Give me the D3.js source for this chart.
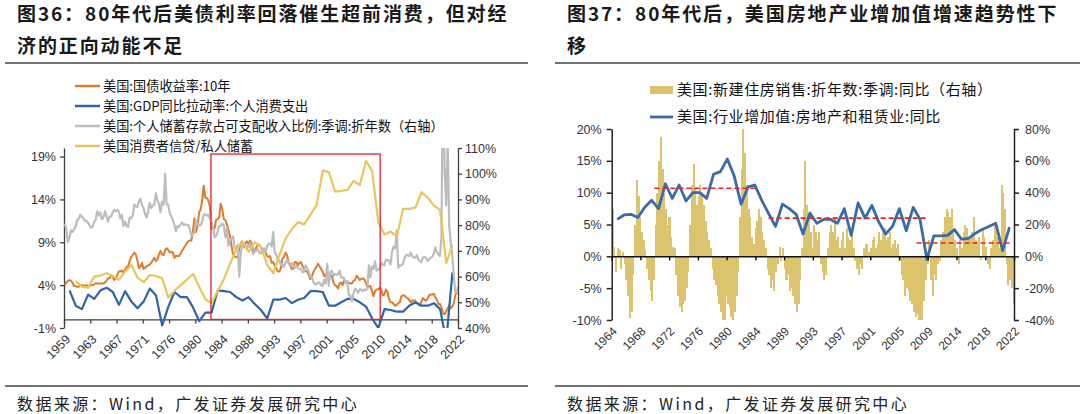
<!DOCTYPE html>
<html><head><meta charset="utf-8">
<script src="https://cdn.jsdelivr.net/npm/d3@7/dist/d3.min.js"></script>
<style>
body{margin:0;background:#fff;}
svg{display:block;}
</style></head>
<body><svg id="c" width="1080" height="414"></svg>
<script>
// ---------------- DATA ----------------
// Figure 36 (left)
const leftXLabels = ["1959","1963","1967","1971","1976","1980","1984","1988","1993","1997","2001","2005","2010","2014","2018","2022"];
const leftYTicks = [-1, 4, 9, 14, 19];
const leftY2Ticks = [40, 50, 60, 70, 80, 90, 100, 110];
// US 10Y Treasury yield, quarterly from 1959Q1 (%)
const tsy10Q = [
4.0,4.3,4.5,4.6, 4.5,4.3,3.9,3.9, 3.8,3.8,4.0,4.0, 4.0,3.9,4.0,3.9, 3.9,4.0,4.0,4.1,
4.2,4.2,4.2,4.2, 4.2,4.2,4.3,4.5, 4.8,4.8,5.1,5.0, 4.6,4.8,5.2,5.6, 5.6,5.7,5.4,5.8,
6.1,6.2,6.8,7.3, 7.5,7.8,7.6,6.9, 6.0,6.2,6.6,5.9, 6.0,6.2,6.3,6.4, 6.6,6.9,7.2,6.8,
7.0,7.6,8.0,7.6, 7.5,8.1,8.3,8.1, 7.8,7.9,7.8,7.2, 7.4,7.4,7.4,7.7, 8.0,8.3,8.6,8.9,
9.1,9.2,9.2,10.4, 11.8,10.2,10.9,12.5, 12.8,13.9,15.6,14.2, 14.2,13.9,13.1,10.6, 10.6,10.6,11.6,11.7,
11.9,13.5,12.9,11.7, 11.6,11.1,10.4,9.8, 8.6,7.6,7.3,7.3, 7.2,8.3,8.9,9.1, 8.4,8.9,9.1,8.8,
9.2,8.9,8.1,7.9, 8.4,8.7,8.7,8.4, 8.0,8.1,7.9,7.4, 7.3,7.4,6.6,6.7, 6.3,5.9,5.6,5.6,
6.0,7.1,7.3,7.8, 7.5,6.6,6.3,5.9, 5.9,6.7,6.7,6.3, 6.6,6.7,6.2,5.9, 5.6,5.6,5.2,4.7,
5.0,5.5,5.9,6.1, 6.5,6.2,5.9,5.6, 5.0,5.3,4.9,4.8, 5.1,5.1,4.3,4.0, 3.9,3.6,4.2,4.3,
4.0,4.6,4.3,4.2, 4.3,4.2,4.2,4.5, 4.6,5.1,4.9,4.6, 4.7,4.8,4.7,4.3, 3.7,3.9,3.9,3.3,
2.7,3.3,3.5,3.5, 3.7,3.5,2.8,2.9, 3.5,3.2,2.4,2.0, 2.0,1.8,1.6,1.7, 1.9,2.0,2.7,2.8,
2.8,2.6,2.5,2.3, 2.0,2.2,2.2,2.2, 1.9,1.8,1.6,2.1, 2.5,2.3,2.2,2.4, 2.8,2.9,2.9,3.0,
2.6,2.3,1.8,1.8, 1.4,0.7,0.6,0.9, 1.3,1.6,1.3,1.5, 1.9,2.9,3.1,3.9
];
// Personal saving rate, quarterly from 1959Q1 (%)
const savingQ = [
11.2,10.5,9.0,9.5, 10.4,10.2,10.5,10.8, 11.6,11.7,12.2,12.0, 11.8,11.5,11.5,11.3, 11.0,10.7,10.8,11.4,
11.6,12.6,12.1,12.5, 11.7,11.9,12.6,12.1, 11.4,12.0,12.0,12.5, 12.8,12.6,12.8,12.6, 11.8,12.2,10.9,11.4,
10.9,10.8,11.9,11.8, 12.1,13.4,13.2,13.1, 13.8,14.1,13.3,13.0, 12.3,11.9,12.6,13.6, 13.0,13.3,13.4,14.7,
13.9,13.5,12.5,13.7, 13.4,17.0,13.4,13.4, 12.4,12.0,11.6,11.0, 10.3,10.9,10.8,11.1, 11.3,11.0,11.1,11.0,
11.0,10.5,9.8,10.0, 10.2,11.5,11.2,11.0, 11.0,11.4,12.2,12.3, 12.1,12.2,11.7,11.4, 10.6,9.6,9.7,10.2,
10.9,10.9,11.2,11.0, 9.6,10.6,8.6,9.2, 9.4,9.7,8.3,8.3, 8.7,5.0,7.8,8.7, 8.5,8.5,8.6,8.4,
8.9,8.2,7.6,8.0, 8.0,8.2,7.8,7.7, 8.1,8.3,7.9,8.5, 8.8,8.9,8.5,10.2, 7.8,7.6,6.9,6.9,
6.4,6.4,6.1,6.7, 6.9,6.5,6.3,6.6, 6.3,6.0,6.2,6.0, 5.9,5.9,5.5,5.6, 6.3,6.0,5.6,5.0,
5.0,4.4,4.1,4.1, 4.3,4.3,4.0,3.9, 4.6,4.2,6.5,3.9, 5.5,5.7,5.1,5.3, 5.2,5.3,5.7,4.9,
4.9,4.8,4.2,4.5, 2.8,2.8,2.1,3.0, 3.6,3.4,3.1,3.5, 3.5,3.3,3.5,3.4, 3.6,6.3,4.9,6.2,
5.9,6.8,5.7,5.8, 6.0,6.6,6.4,6.3, 7.0,6.9,6.9,6.4, 7.9,8.5,8.3,10.4, 6.0,6.3,6.3,6.5,
7.1,7.5,7.5,7.4, 7.8,7.4,7.2,7.2, 7.5,7.0,6.8,6.7, 7.2,7.3,7.2,6.8, 7.0,7.2,7.3,7.7,
8.4,7.9,7.6,7.4, 9.6,33.0,17.5,13.3, 21.0,10.9,9.0,7.5, 5.0,3.2,3.3,3.0
];
// PCE contribution to GDP growth, annual 1959-2021 (%)
const pceYears0 = 1959;
const pceContrib = [3.4,1.6,1.2,2.9,2.4,3.4,3.7,3.2,1.7,3.3,2.1,1.3,2.1,3.6,2.8,-0.7,1.5,3.2,2.6,2.6,
1.4,-0.2,0.8,0.8,3.4,3.3,3.2,2.6,2.2,2.6,1.8,1.1,0.1,2.3,2.3,2.5,1.9,2.3,2.5,3.3,
3.3,3.2,1.6,1.6,2.0,2.4,2.4,2.0,1.5,0.1,-1.0,1.2,1.1,0.9,0.9,1.6,2.0,1.6,1.6,1.9,1.2,-2.5,5.5];
// Consumer credit / personal saving, annual 1960-2021 (%)
const creditYears0 = 1960;
const creditSaving = [58.3,56.1,55.7,60.0,60.4,61.3,60.2,58.7,61.9,64.5,59.6,57.8,60.6,60.2,59.3,51.8,54.5,56.7,58.8,61.0,
56.0,51.2,49.6,54.5,59,65,70.5,73.3,69.7,73.3,71.6,64.5,61.3,68.4,74.9,78.5,81.1,80.3,84,87.8,
101.2,100.6,93,93.3,93.7,97.2,95.6,105,101,81.1,76.4,77.5,75.5,86.3,86.3,86.8,92.8,90.7,87.6,85.9,65.2,72.3];
const highlightYears = [1982.8, 2010.2];
const highlightTop = 19.3;

// Figure 37 (right)
const rightXLabels = ["1964","1968","1972","1976","1980","1984","1989","1993","1997","2001","2005","2009","2014","2018","2022"];
const rightYTicks = [-10,-5,0,5,10,15,20];
const rightY2Ticks = [-40,-20,0,20,40,60,80];
// New home sales YoY, quarterly from 1964Q1 (%)
const homeSalesQ = [
30,6,-10,5, 4,-8,3,-5, -15,-25,-39,-35, -12,20,48,38, 25,15,10,4,
-8,-15,-22,-28, -15,20,40,60, 75,55,40,30, 20,25,12,6, 5,-12,-25,-32,
-35,-30,-28,-20, -10,20,45,58, 42,32,38,45, 40,32,22,15, 10,5,-8,-15,
-18,-25,-30,-35, -40,-40,-25,-30, -32,-38,-40,-35, -25,-10,25,55, 80,65,45,30,
25,12,8,18, 22,30,25,15, 10,5,-8,-12, -20,-15,-22,-10, -5,6,-3,5,
-8,-15,-12,-22, -20,-25,-30,-35, -30,-15,5,30, 60,32,25,15, 5,20,15,10,
15,-5,-10,-15, -12,5,15,20, 15,25,10,12, 5,10,15,5, 18,12,10,15,
5,-3,-8,-12, -5,-8,5,8, 8,3,5,10, 12,5,8,15, 10,15,18,10,
12,15,5,8, 10,5,8,-3, -12,-15,-25,-20, -22,-28,-30,-35, -38,-36,-40,-40,
-40,-28,-15,-5, 10,-15,-25,-12, -15,-5,-3,10, 15,25,30,28, 25,30,15,10,
5,-5,10,5, 15,20,18,10, 12,15,25,10, 8,12,-2,18, 12,6,-5,-8,
5,10,20,18, 12,5,45,40, 30,-5,-18,-15, -20,-30
];
// Real estate & rental value added YoY, annual 1964-2021 (%)
const reYears0 = 1964;
const reGrowth = [5.8,6.5,6.6,6.1,7.7,8.8,7.5,11.4,9.1,11.2,8.7,10.0,10.0,9.1,12.9,13.3,15.3,12.6,8.2,10.9,
11.2,8.8,6.7,4.7,8.2,7.5,6.6,3.5,6.8,5.2,5.8,5.8,5.2,7.5,3.3,8.4,6.0,8.0,5.4,3.5,
4.7,7.5,4.0,7.7,5.8,-0.5,3.2,3.2,3.3,4.2,2.7,2.8,3.6,4.2,4.7,5.2,0.9,4.6];
// Trend lines
const trendStart = [1970.2, 1986.8, 2008.3];
const trendEnd   = [1985.3, 2009.6, 2022.2];
const trendLevel = [10.7, 6.0, 2.1];

// ---------------- DRAW ----------------
const svg = d3.select("#c");
const CJK = "'Noto Sans CJK SC','Noto Sans',sans-serif";
const NUM = "'Liberation Sans',Arial,sans-serif";
const TXT = "#333";

function titleBlock(x, x0, x1, lines){
  lines.forEach((t,i)=>{
    svg.append("text").attr("x",x).attr("y",21+i*32).text(t)
      .attr("font-family",CJK).attr("font-weight","bold").attr("font-size",19)
      .attr("letter-spacing",1.9).attr("fill","#1a1a1a");
  });
  svg.append("line").attr("x1",x0).attr("x2",x1).attr("y1",63).attr("y2",63)
    .attr("stroke","#444").attr("stroke-width",1.5);
  svg.append("line").attr("x1",x0).attr("x2",x1).attr("y1",386).attr("y2",386)
    .attr("stroke","#444").attr("stroke-width",1.5);
  svg.append("text").attr("x",x).attr("y",410).text("数据来源：Wind，广发证券发展研究中心")
    .attr("font-family",CJK).attr("font-size",16).attr("letter-spacing",2.4).attr("fill","#222");
}
titleBlock(17, 5, 528, ["图36：80年代后美债利率回落催生超前消费，但对经","济的正向动能不足"]);
titleBlock(567, 555, 1080, ["图37：80年代后，美国房地产业增加值增速趋势性下","移"]);

const defs = svg.append("defs");

// ===== LEFT CHART =====
const xL = d3.scaleLinear([1959, 2022.8], [64, 458]);
const yL = d3.scaleLinear([-1, 20], [328, 148]);
const yL2 = d3.scaleLinear([40, 110], [328, 148]);
const xLab = d3.scalePoint(leftXLabels, [64, 458]);

defs.append("clipPath").attr("id","clipL").append("rect")
  .attr("x",64).attr("y",148).attr("width",394).attr("height",180);

const gL = svg.append("g");
const axL = gL.append("g").attr("transform","translate(64,0)")
  .call(d3.axisLeft(yL).tickValues(leftYTicks).tickFormat(d=>d+"%").tickSize(4).tickSizeOuter(0));
const axL2 = gL.append("g").attr("transform","translate(458,0)")
  .call(d3.axisRight(yL2).tickValues(leftY2Ticks).tickFormat(d=>d+"%").tickSize(4).tickSizeOuter(0));
[axL,axL2].forEach(a=>{
  a.select(".domain").attr("stroke","#404040").attr("stroke-width",1.3);
  a.selectAll(".tick line").attr("stroke","#404040").attr("stroke-width",1.3);
  a.selectAll(".tick text").attr("font-family",NUM).attr("font-size",12.5).attr("fill",TXT);
});
axL.selectAll(".tick text").attr("x",-8);
axL2.selectAll(".tick text").attr("x",7);
const axLx = gL.append("g").attr("transform",`translate(0,${yL(0)})`)
  .call(d3.axisBottom(xLab).tickSize(4).tickSizeOuter(0).tickFormat(""));
axLx.select(".domain").attr("stroke","#404040").attr("stroke-width",1.3);
axLx.selectAll(".tick line").attr("stroke","#404040").attr("stroke-width",1.3);
gL.selectAll(".xlabL").data(leftXLabels).join("text")
  .attr("transform",d=>`translate(${xLab(d)+4},${337}) rotate(-45)`)
  .attr("text-anchor","end").attr("dy","0.35em")
  .attr("font-family",NUM).attr("font-size",12.5).attr("fill",TXT).text(d=>d);

const lineL = d3.line().x(d=>xL(d.t)).y(d=>yL(d.v));
const lineL2 = d3.line().x(d=>xL(d.t)).y(d=>yL2(d.v));
const plotL = gL.append("g").attr("clip-path","url(#clipL)");
const q = arr => arr.map((v,i)=>({t:1959+i/4+0.125, v}));
plotL.append("path").datum(q(tsy10Q)).attr("d",lineL)
  .attr("fill","none").attr("stroke","#E07B2E").attr("stroke-width",2).attr("stroke-linejoin","round");
plotL.append("path").datum(pceContrib.map((v,i)=>({t:pceYears0+i+0.9, v}))).attr("d",lineL)
  .attr("fill","none").attr("stroke","#2F64AA").attr("stroke-width",2.2).attr("stroke-linejoin","round");
plotL.append("path").datum(q(savingQ)).attr("d",lineL)
  .attr("fill","none").attr("stroke","#BDBDBD").attr("stroke-width",2.2).attr("stroke-linejoin","round");
plotL.append("path").datum(creditSaving.map((v,i)=>({t:creditYears0+i+0.9, v}))).attr("d",lineL2)
  .attr("fill","none").attr("stroke","#E8C65E").attr("stroke-width",2.2).attr("stroke-linejoin","round");
gL.append("rect").attr("x",xL(highlightYears[0])).attr("y",yL(highlightTop))
  .attr("width",xL(highlightYears[1])-xL(highlightYears[0])).attr("height",yL(0)-yL(highlightTop))
  .attr("fill","none").attr("stroke","#E3242B").attr("stroke-width",1.3);

const legL = [
  {t:"美国:国债收益率:10年", c:"#E07B2E"},
  {t:"美国:GDP同比拉动率:个人消费支出", c:"#2F64AA"},
  {t:"美国:个人储蓄存款占可支配收入比例:季调:折年数（右轴）", c:"#BDBDBD"},
  {t:"美国消费者信贷/私人储蓄", c:"#E8C65E"}
];
legL.forEach((d,i)=>{
  const y = 86 + i*20;
  svg.append("line").attr("x1",75).attr("x2",100).attr("y1",y).attr("y2",y)
    .attr("stroke",d.c).attr("stroke-width",2.5);
  svg.append("text").attr("x",103).attr("y",y).attr("dy","0.35em").text(d.t)
    .attr("font-family",CJK).attr("font-size",13.2).attr("fill","#111");
});

// ===== RIGHT CHART =====
const xR = d3.scaleLinear([1964, 2022.45], [611.7, 1014]);
const yR = d3.scaleLinear([-10, 20], [320, 129]);
const yR2 = d3.scaleLinear([-40, 80], [320, 129]);
const xRLab = d3.scalePoint(rightXLabels, [611.7, 1014]);
defs.append("clipPath").attr("id","clipR").append("rect")
  .attr("x",611.7).attr("y",129).attr("width",402.3).attr("height",191);

const gR = svg.append("g");
const plotR = gR.append("g").attr("clip-path","url(#clipR)");
plotR.selectAll("rect.bar").data(homeSalesQ.map((v,i)=>({t:1964+i/4, v}))).join("rect")
  .attr("class","bar")
  .attr("x",d=>xR(d.t)).attr("width",d=>xR(d.t+0.25)-xR(d.t)+0.3)
  .attr("y",d=>Math.min(yR2(d.v),yR2(0))).attr("height",d=>Math.abs(yR2(d.v)-yR2(0)))
  .attr("fill","#DCC46E").attr("shape-rendering","crispEdges");

const axR = gR.append("g").attr("transform","translate(611.7,0)")
  .call(d3.axisLeft(yR).tickValues(rightYTicks).tickFormat(d=>d+"%").tickSize(5).tickSizeOuter(0));
const axR2 = gR.append("g").attr("transform","translate(1014,0)")
  .call(d3.axisRight(yR2).tickValues(rightY2Ticks).tickFormat(d=>d+"%").tickSize(5).tickSizeOuter(0));
[axR,axR2].forEach(a=>{
  a.select(".domain").attr("stroke","#222").attr("stroke-width",1.5);
  a.selectAll(".tick line").attr("stroke","#222").attr("stroke-width",1.5);
  a.selectAll(".tick text").attr("font-family",NUM).attr("font-size",12.5).attr("fill",TXT);
});
axR.selectAll(".tick text").attr("x",-10);
axR2.selectAll(".tick text").attr("x",11);
const axRx = gR.append("g").attr("transform",`translate(0,${yR(0)})`)
  .call(d3.axisBottom(xRLab).tickSize(4).tickSizeOuter(0).tickFormat(""));
axRx.select(".domain").attr("stroke","#111").attr("stroke-width",1.5);
axRx.selectAll(".tick line").attr("stroke","#111").attr("stroke-width",1.5);
gR.selectAll(".xlabR").data(rightXLabels).join("text")
  .attr("transform",d=>`translate(${xRLab(d)+3},${329}) rotate(-45)`)
  .attr("text-anchor","end").attr("dy","0.35em")
  .attr("font-family",NUM).attr("font-size",12).attr("fill",TXT).text(d=>d);

plotR.append("path").datum(reGrowth.map((v,i)=>({t:reYears0+i+0.8, v})))
  .attr("d",d3.line().x(d=>xR(d.t)).y(d=>yR(d.v)))
  .attr("fill","none").attr("stroke","#3A6BA8").attr("stroke-width",2.8).attr("stroke-linejoin","round");
trendLevel.forEach((lv,i)=>{
  gR.append("line").attr("x1",xR(trendStart[i])).attr("x2",xR(trendEnd[i]))
    .attr("y1",yR(lv)).attr("y2",yR(lv))
    .attr("stroke","#F0201A").attr("stroke-width",1.6).attr("stroke-dasharray","5,3");
});

svg.append("rect").attr("x",650).attr("y",86).attr("width",23).attr("height",8).attr("fill","#DCC46E");
svg.append("text").attr("x",677).attr("y",90).attr("dy","0.35em").text("美国:新建住房销售:折年数:季调:同比（右轴）")
  .attr("font-family",CJK).attr("font-size",15).attr("letter-spacing",0.6).attr("fill","#111");
svg.append("line").attr("x1",650).attr("x2",673).attr("y1",117).attr("y2",117)
  .attr("stroke","#3A6BA8").attr("stroke-width",2.8);
svg.append("text").attr("x",677).attr("y",117).attr("dy","0.35em").text("美国:行业增加值:房地产和租赁业:同比")
  .attr("font-family",CJK).attr("font-size",15).attr("letter-spacing",0.6).attr("fill","#111");
</script></body></html>
